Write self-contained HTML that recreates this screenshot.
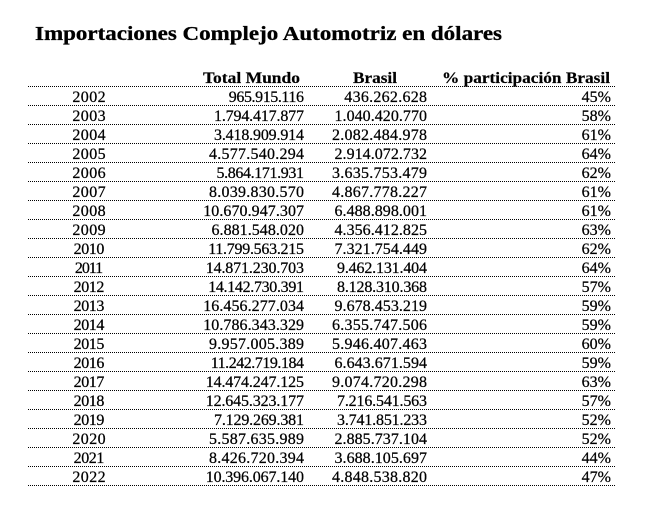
<!DOCTYPE html>
<html>
<head>
<meta charset="utf-8">
<style>
html,body{margin:0;padding:0;background:#fff;}
svg{display:block;}
text{font-family:"Liberation Serif",serif;fill:#000;}
.t{font-weight:bold;font-size:19.5px;stroke:#000;stroke-width:0.3;}
.h{font-weight:bold;font-size:16px;stroke:#000;stroke-width:0.2;}
.v{font-size:16px;stroke:#000;stroke-width:0.25;}
</style>
</head>
<body>
<svg width="647" height="525" viewBox="0 0 647 525" xmlns="http://www.w3.org/2000/svg">
<rect width="647" height="525" fill="#fff"/>
<text class="t" x="35" y="40" textLength="467" lengthAdjust="spacingAndGlyphs">Importaciones Complejo Automotriz en dólares</text>

<text class="h" x="203" y="83" textLength="97" lengthAdjust="spacingAndGlyphs">Total Mundo</text>
<text class="h" x="353" y="83" textLength="44" lengthAdjust="spacingAndGlyphs">Brasil</text>
<text class="h" x="442" y="83" textLength="168" lengthAdjust="spacingAndGlyphs">% participación Brasil</text>

<g stroke="#000" stroke-width="1" stroke-dasharray="1 1">
<line x1="28" x2="616" y1="86.5" y2="86.5"/>
<line x1="28" x2="616" y1="105.5" y2="105.5"/>
<line x1="28" x2="616" y1="124.5" y2="124.5"/>
<line x1="28" x2="616" y1="143.5" y2="143.5"/>
<line x1="28" x2="616" y1="162.5" y2="162.5"/>
<line x1="28" x2="616" y1="181.5" y2="181.5"/>
<line x1="28" x2="616" y1="200.5" y2="200.5"/>
<line x1="28" x2="616" y1="219.5" y2="219.5"/>
<line x1="28" x2="616" y1="238.5" y2="238.5"/>
<line x1="28" x2="616" y1="257.5" y2="257.5"/>
<line x1="28" x2="616" y1="276.5" y2="276.5"/>
<line x1="28" x2="616" y1="295.5" y2="295.5"/>
<line x1="28" x2="616" y1="314.5" y2="314.5"/>
<line x1="28" x2="616" y1="333.5" y2="333.5"/>
<line x1="28" x2="616" y1="352.5" y2="352.5"/>
<line x1="28" x2="616" y1="371.5" y2="371.5"/>
<line x1="28" x2="616" y1="390.5" y2="390.5"/>
<line x1="28" x2="616" y1="409.5" y2="409.5"/>
<line x1="28" x2="616" y1="428.5" y2="428.5"/>
<line x1="28" x2="616" y1="447.5" y2="447.5"/>
<line x1="28" x2="616" y1="466.5" y2="466.5"/>
<line x1="28" x2="616" y1="485.5" y2="485.5"/>
</g>

<!-- Years -->
<g text-anchor="middle">
<text class="v" x="89" y="102" textLength="33.2">2002</text>
<text class="v" x="89" y="121" textLength="33.2">2003</text>
<text class="v" x="89" y="140" textLength="33.2">2004</text>
<text class="v" x="89" y="159" textLength="33.2">2005</text>
<text class="v" x="89" y="178" textLength="33.2">2006</text>
<text class="v" x="89" y="197" textLength="33.2">2007</text>
<text class="v" x="89" y="216" textLength="33.2">2008</text>
<text class="v" x="89" y="235" textLength="33.2">2009</text>
<text class="v" x="89" y="254" textLength="30.7">2010</text>
<text class="v" x="89" y="273" textLength="28.2">2011</text>
<text class="v" x="89" y="292" textLength="30.7">2012</text>
<text class="v" x="89" y="311" textLength="30.7">2013</text>
<text class="v" x="89" y="330" textLength="30.7">2014</text>
<text class="v" x="89" y="349" textLength="30.7">2015</text>
<text class="v" x="89" y="368" textLength="30.7">2016</text>
<text class="v" x="89" y="387" textLength="30.7">2017</text>
<text class="v" x="89" y="406" textLength="30.7">2018</text>
<text class="v" x="89" y="425" textLength="30.7">2019</text>
<text class="v" x="89" y="444" textLength="33.2">2020</text>
<text class="v" x="89" y="463" textLength="30.7">2021</text>
<text class="v" x="89" y="482" textLength="33.2">2022</text>
</g>

<!-- Total Mundo -->
<g text-anchor="end">
<text class="v" x="304" y="102" textLength="75.2">965.915.116</text>
<text class="v" x="304" y="121" textLength="90">1.794.417.877</text>
<text class="v" x="304" y="140" textLength="90">3.418.909.914</text>
<text class="v" x="304" y="159" textLength="95">4.577.540.294</text>
<text class="v" x="304" y="178" textLength="87.5">5.864.171.931</text>
<text class="v" x="304" y="197" textLength="95">8.039.830.570</text>
<text class="v" x="304" y="216" textLength="100.8">10.670.947.307</text>
<text class="v" x="304" y="235" textLength="92.5">6.881.548.020</text>
<text class="v" x="304" y="254" textLength="95.8">11.799.563.215</text>
<text class="v" x="304" y="273" textLength="98.3">14.871.230.703</text>
<text class="v" x="304" y="292" textLength="95.8">14.142.730.391</text>
<text class="v" x="304" y="311" textLength="100.8">16.456.277.034</text>
<text class="v" x="304" y="330" textLength="100.8">10.786.343.329</text>
<text class="v" x="304" y="349" textLength="95">9.957.005.389</text>
<text class="v" x="304" y="368" textLength="93.3">11.242.719.184</text>
<text class="v" x="304" y="387" textLength="98.3">14.474.247.125</text>
<text class="v" x="304" y="406" textLength="98.3">12.645.323.177</text>
<text class="v" x="304" y="425" textLength="90">7.129.269.381</text>
<text class="v" x="304" y="444" textLength="95">5.587.635.989</text>
<text class="v" x="304" y="463" textLength="95">8.426.720.394</text>
<text class="v" x="304" y="482" textLength="98.3">10.396.067.140</text>
</g>

<!-- Brasil -->
<g text-anchor="end">
<text class="v" x="427" y="102" textLength="82.7">436.262.628</text>
<text class="v" x="427" y="121" textLength="92.5">1.040.420.770</text>
<text class="v" x="427" y="140" textLength="95">2.082.484.978</text>
<text class="v" x="427" y="159" textLength="92.5">2.914.072.732</text>
<text class="v" x="427" y="178" textLength="95">3.635.753.479</text>
<text class="v" x="427" y="197" textLength="95">4.867.778.227</text>
<text class="v" x="427" y="216" textLength="92.5">6.488.898.001</text>
<text class="v" x="427" y="235" textLength="92.5">4.356.412.825</text>
<text class="v" x="427" y="254" textLength="92.5">7.321.754.449</text>
<text class="v" x="427" y="273" textLength="90">9.462.131.404</text>
<text class="v" x="427" y="292" textLength="90">8.128.310.368</text>
<text class="v" x="427" y="311" textLength="92.5">9.678.453.219</text>
<text class="v" x="427" y="330" textLength="95">6.355.747.506</text>
<text class="v" x="427" y="349" textLength="95">5.946.407.463</text>
<text class="v" x="427" y="368" textLength="92.5">6.643.671.594</text>
<text class="v" x="427" y="387" textLength="95">9.074.720.298</text>
<text class="v" x="427" y="406" textLength="90">7.216.541.563</text>
<text class="v" x="427" y="425" textLength="90">3.741.851.233</text>
<text class="v" x="427" y="444" textLength="92.5">2.885.737.104</text>
<text class="v" x="427" y="463" textLength="92.5">3.688.105.697</text>
<text class="v" x="427" y="482" textLength="95">4.848.538.820</text>
</g>

<!-- % participación -->
<g text-anchor="end">
<text class="v" x="611" y="102">45%</text>
<text class="v" x="611" y="121">58%</text>
<text class="v" x="611" y="140">61%</text>
<text class="v" x="611" y="159">64%</text>
<text class="v" x="611" y="178">62%</text>
<text class="v" x="611" y="197">61%</text>
<text class="v" x="611" y="216">61%</text>
<text class="v" x="611" y="235">63%</text>
<text class="v" x="611" y="254">62%</text>
<text class="v" x="611" y="273">64%</text>
<text class="v" x="611" y="292">57%</text>
<text class="v" x="611" y="311">59%</text>
<text class="v" x="611" y="330">59%</text>
<text class="v" x="611" y="349">60%</text>
<text class="v" x="611" y="368">59%</text>
<text class="v" x="611" y="387">63%</text>
<text class="v" x="611" y="406">57%</text>
<text class="v" x="611" y="425">52%</text>
<text class="v" x="611" y="444">52%</text>
<text class="v" x="611" y="463">44%</text>
<text class="v" x="611" y="482">47%</text>
</g>
</svg>
</body>
</html>
